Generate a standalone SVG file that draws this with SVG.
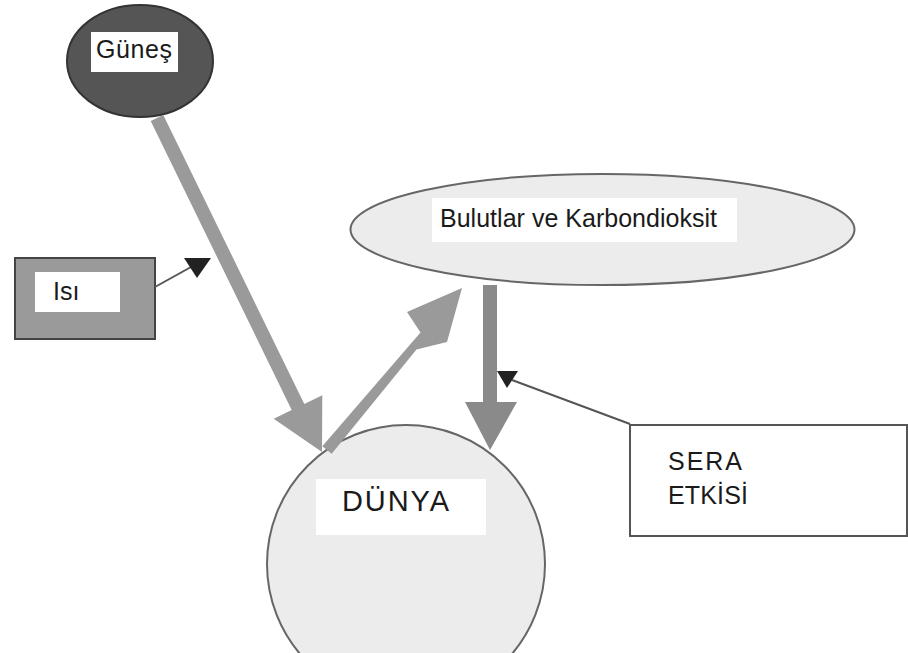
<svg xmlns="http://www.w3.org/2000/svg" width="908" height="653" viewBox="0 0 908 653">
<style>
text{font-family:"Liberation Sans",Arial,sans-serif;font-size:25px;fill:#1a1a1a}
text.big{font-size:29px}
.lbl{fill:#fff}
.thin{stroke:#555;stroke-width:2;fill:none}
.tri{fill:#222}
.arr{fill:#9a9a9a}
.arrd{fill:#8a8a8a}
</style>
<rect width="908" height="653" fill="#fff"/>
<g id="dunya">
<circle cx="406" cy="564" r="139" fill="#ececec" stroke="#666" stroke-width="2"/>
<rect class="lbl" x="316" y="479" width="170" height="56"/>
<text class="big" x="342" y="511" textLength="107">DÜNYA</text>
</g>
<g id="gunes">
<ellipse cx="140" cy="61" rx="73" ry="56" fill="#555" stroke="#333" stroke-width="2"/>
<rect class="lbl" x="91" y="32" width="87" height="40"/>
<text x="96" y="58" textLength="76">Güneş</text>
</g>
<g id="bulutlar">
<ellipse cx="602.5" cy="229.5" rx="252" ry="55.5" fill="#ececec" stroke="#666" stroke-width="2"/>
<rect class="lbl" x="432" y="198" width="305" height="44"/>
<text x="440" y="227" textLength="277">Bulutlar ve Karbondioksit</text>
</g>
<g id="isi">
<rect x="15" y="258" width="140" height="81" fill="#9a9a9a" stroke="#444" stroke-width="2"/>
<rect class="lbl" x="35" y="272" width="85" height="40"/>
<text x="53" y="300">Isı</text>
</g>
<g id="sera">
<rect x="630" y="425" width="277" height="111" fill="#fff" stroke="#555" stroke-width="2"/>
<text x="668" y="470" textLength="74">SERA</text>
<text x="668" y="504" textLength="80">ETKİSİ</text>
</g>
<g id="connectors">
<polygon class="arr" points="150.7,121.1 163.3,114.9 304.3,404.1 322.3,395.2 322,452 273.7,418.8 291.7,410"/>
<polygon class="arr" points="322.3,446.3 331.7,453.7 416.5,349.5 447,342 462,288 407,312 420.5,332.5"/>
<polygon class="arrd" points="483,285 497,285 497,402 517,402 490,450 465,402 483,402"/>
<line class="thin" x1="155" y1="287" x2="191" y2="267"/>
<polygon class="tri" points="184,258 211,258 197,278"/>
<line class="thin" x1="630" y1="424" x2="512" y2="380"/>
<polygon class="tri" points="497,371 518,371 507,388"/>
</g>
</svg>
